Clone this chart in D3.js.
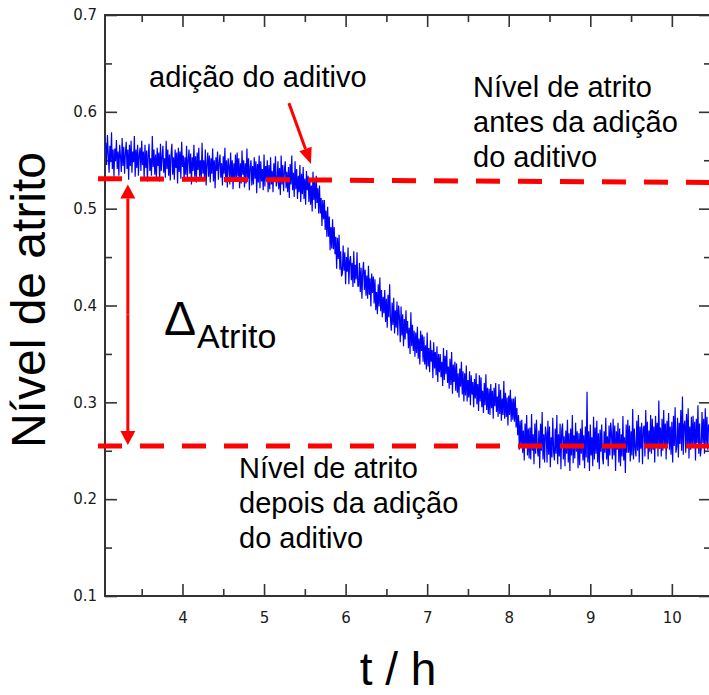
<!DOCTYPE html>
<html>
<head>
<meta charset="utf-8">
<script src="https://cdn.jsdelivr.net/npm/d3@7"></script>
<style>
    body { margin: 0; background: #fff; }
    svg { display: block; }
    .lbl { font-family: 'Liberation Sans', Arial, sans-serif; fill: #000; }
</style>
</head>
<body>
<svg class="chart" width="709" height="695"></svg>
<script>
// friction trace, sampled every 0.01 h starting at t = 3.06 h (one row = 0.1 h)
var traceStart = 3.06
var traceStep = 0.01
var friction = [
    0.568, 0.545, 0.576, 0.557, 0.537, 0.565, 0.548, 0.579, 0.541, 0.561,
    0.533, 0.562, 0.549, 0.571, 0.541, 0.559, 0.534, 0.566, 0.554, 0.538,
    0.573, 0.544, 0.564, 0.536, 0.557, 0.569, 0.541, 0.561, 0.530, 0.566,
    0.544, 0.570, 0.537, 0.559, 0.548, 0.575, 0.533, 0.561, 0.542, 0.566,
    0.534, 0.556, 0.563, 0.539, 0.570, 0.545, 0.559, 0.531, 0.566, 0.542,
    0.560, 0.528, 0.556, 0.567, 0.539, 0.552, 0.534, 0.575, 0.543, 0.561,
    0.535, 0.556, 0.530, 0.563, 0.544, 0.558, 0.528, 0.567, 0.539, 0.553,
    0.565, 0.537, 0.552, 0.532, 0.570, 0.541, 0.561, 0.534, 0.556, 0.529,
    0.556, 0.567, 0.535, 0.553, 0.530, 0.561, 0.542, 0.558, 0.526, 0.563,
    0.538, 0.559, 0.531, 0.569, 0.543, 0.555, 0.528, 0.553, 0.535, 0.565,
    0.531, 0.550, 0.561, 0.536, 0.557, 0.525, 0.553, 0.539, 0.566, 0.533,
    0.554, 0.527, 0.558, 0.540, 0.563, 0.533, 0.550, 0.529, 0.568, 0.536,
    0.550, 0.530, 0.561, 0.524, 0.546, 0.558, 0.533, 0.555, 0.527, 0.552,
    0.536, 0.562, 0.528, 0.550, 0.521, 0.553, 0.539, 0.559, 0.530, 0.547,
    0.556, 0.532, 0.547, 0.524, 0.554, 0.536, 0.563, 0.527, 0.550, 0.522,
    0.552, 0.544, 0.525, 0.558, 0.532, 0.550, 0.520, 0.547, 0.529, 0.556,
    0.529, 0.558, 0.533, 0.552, 0.521, 0.547, 0.526, 0.560, 0.535, 0.550,
    0.522, 0.547, 0.526, 0.562, 0.531, 0.552, 0.519, 0.543, 0.550, 0.524,
    0.544, 0.525, 0.553, 0.531, 0.549, 0.516, 0.546, 0.527, 0.555, 0.521,
    0.549, 0.528, 0.541, 0.519, 0.556, 0.523, 0.544, 0.531, 0.550, 0.517,
    0.545, 0.520, 0.553, 0.525, 0.539, 0.517, 0.547, 0.528, 0.554, 0.523,
    0.528, 0.549, 0.520, 0.542, 0.514, 0.555, 0.525, 0.545, 0.518, 0.540,
    0.549, 0.521, 0.538, 0.517, 0.543, 0.511, 0.546, 0.525, 0.555, 0.519,
    0.537, 0.512, 0.549, 0.520, 0.541, 0.510, 0.534, 0.517, 0.545, 0.507,
    0.536, 0.515, 0.543, 0.510, 0.531, 0.504, 0.539, 0.519, 0.534, 0.507,
    0.532, 0.504, 0.524, 0.497, 0.538, 0.509, 0.529, 0.500, 0.534, 0.506,
    0.521, 0.495, 0.524, 0.495, 0.511, 0.482, 0.509, 0.489, 0.509, 0.478,
    0.498, 0.471, 0.502, 0.471, 0.492, 0.457, 0.481, 0.459, 0.489, 0.458,
    0.481, 0.453, 0.471, 0.438, 0.470, 0.448, 0.473, 0.437, 0.456, 0.430,
    0.433, 0.462, 0.436, 0.455, 0.422, 0.450, 0.435, 0.460, 0.422, 0.446,
    0.451, 0.426, 0.444, 0.419, 0.456, 0.423, 0.442, 0.427, 0.455, 0.420,
    0.420, 0.444, 0.414, 0.439, 0.407, 0.435, 0.445, 0.416, 0.437, 0.410,
    0.431, 0.407, 0.441, 0.411, 0.428, 0.399, 0.433, 0.413, 0.430, 0.402,
    0.427, 0.395, 0.414, 0.391, 0.422, 0.399, 0.429, 0.394, 0.416, 0.388,
    0.409, 0.392, 0.416, 0.383, 0.407, 0.377, 0.411, 0.388, 0.422, 0.386,
    0.374, 0.403, 0.380, 0.408, 0.371, 0.395, 0.377, 0.404, 0.369, 0.400,
    0.388, 0.362, 0.399, 0.369, 0.391, 0.358, 0.386, 0.365, 0.395, 0.371,
    0.384, 0.356, 0.377, 0.350, 0.393, 0.358, 0.380, 0.353, 0.374, 0.347,
    0.372, 0.351, 0.378, 0.345, 0.366, 0.339, 0.374, 0.353, 0.370, 0.342,
    0.368, 0.339, 0.359, 0.334, 0.372, 0.337, 0.356, 0.331, 0.364, 0.342,
    0.354, 0.325, 0.362, 0.335, 0.352, 0.328, 0.358, 0.321, 0.350, 0.331,
    0.350, 0.326, 0.342, 0.317, 0.356, 0.323, 0.348, 0.329, 0.354, 0.320,
    0.337, 0.314, 0.345, 0.318, 0.352, 0.309, 0.339, 0.321, 0.342, 0.312,
    0.340, 0.310, 0.330, 0.305, 0.335, 0.316, 0.342, 0.308, 0.332, 0.301,
    0.330, 0.307, 0.338, 0.301, 0.323, 0.305, 0.332, 0.297, 0.328, 0.308,
    0.321, 0.295, 0.324, 0.304, 0.330, 0.298, 0.319, 0.291, 0.328, 0.301,
    0.326, 0.295, 0.312, 0.289, 0.320, 0.297, 0.329, 0.292, 0.315, 0.288,
    0.314, 0.287, 0.319, 0.294, 0.312, 0.283, 0.315, 0.296, 0.320, 0.290,
    0.306, 0.285, 0.319, 0.288, 0.313, 0.281, 0.304, 0.287, 0.322, 0.283,
    0.310, 0.285, 0.305, 0.276, 0.307, 0.287, 0.313, 0.280, 0.304, 0.282,
    0.304, 0.280, 0.306, 0.274, 0.294, 0.266, 0.287, 0.251, 0.281, 0.255,
    0.282, 0.248, 0.271, 0.240, 0.278, 0.254, 0.287, 0.245, 0.273, 0.242,
    0.274, 0.241, 0.288, 0.250, 0.267, 0.236, 0.278, 0.247, 0.282, 0.254,
    0.244, 0.271, 0.232, 0.278, 0.250, 0.290, 0.241, 0.267, 0.238, 0.275,
    0.268, 0.238, 0.281, 0.246, 0.275, 0.233, 0.264, 0.243, 0.284, 0.249,
    0.240, 0.273, 0.247, 0.287, 0.236, 0.267, 0.244, 0.278, 0.231, 0.271,
    0.278, 0.241, 0.265, 0.234, 0.271, 0.247, 0.282, 0.238, 0.268, 0.229,
    0.273, 0.245, 0.287, 0.237, 0.266, 0.242, 0.279, 0.249, 0.270, 0.232,
    0.268, 0.235, 0.273, 0.247, 0.282, 0.240, 0.266, 0.232, 0.275, 0.243,
    0.311, 0.238, 0.270, 0.229, 0.277, 0.245, 0.264, 0.234, 0.285, 0.241,
    0.274, 0.247, 0.281, 0.238, 0.268, 0.231, 0.272, 0.249, 0.277, 0.243,
    0.236, 0.270, 0.248, 0.284, 0.241, 0.265, 0.234, 0.276, 0.245, 0.279,
    0.268, 0.241, 0.283, 0.245, 0.276, 0.229, 0.270, 0.251, 0.279, 0.238,
    0.273, 0.234, 0.267, 0.244, 0.286, 0.240, 0.264, 0.227, 0.277, 0.248,
    0.282, 0.248, 0.276, 0.239, 0.270, 0.245, 0.293, 0.241, 0.273, 0.252,
    0.244, 0.281, 0.250, 0.287, 0.238, 0.275, 0.252, 0.279, 0.236, 0.273,
    0.276, 0.244, 0.292, 0.253, 0.280, 0.241, 0.271, 0.249, 0.287, 0.247,
    0.283, 0.251, 0.275, 0.238, 0.286, 0.255, 0.279, 0.244, 0.302, 0.252,
    0.274, 0.244, 0.283, 0.250, 0.292, 0.254, 0.278, 0.241, 0.281, 0.257,
    0.289, 0.251, 0.275, 0.246, 0.280, 0.238, 0.286, 0.255, 0.295, 0.248,
    0.254, 0.284, 0.243, 0.279, 0.257, 0.292, 0.250, 0.306, 0.246, 0.277,
    0.281, 0.248, 0.288, 0.255, 0.294, 0.242, 0.275, 0.251, 0.285, 0.253,
    0.286, 0.256, 0.280, 0.240, 0.283, 0.258, 0.297, 0.247, 0.278, 0.244,
    0.253, 0.290, 0.258, 0.283, 0.247, 0.294, 0.255, 0.285, 0.251, 0.277,
    0.270
]

// reference levels [t, value]
var levelBefore = [[2.964, 0.531], [10.5, 0.527]]
var levelAfter = [[2.964, 0.255], [10.5, 0.255]]
var deltaArrow = {t: 3.33, from: 0.525, to: 0.256}
var additionArrow = {t0: 5.305, v0: 0.609, t1: 5.575, v1: 0.546}

var xMajor = [4, 5, 6, 7, 8, 9, 10]
var xMinor = [3.5, 4.5, 5.5, 6.5, 7.5, 8.5, 9.5, 10.5]
var yMajor = [0.1, 0.2, 0.3, 0.4, 0.5, 0.6, 0.7]
var yMinor = [0.15, 0.25, 0.35, 0.45, 0.55, 0.65]

var plotL = 105, plotR = 711, plotT = 15, plotB = 596

var svg = d3.select('.chart')

var xScale = d3.scaleLinear().domain([3.05, 10.48]).range([plotL, plotR])
var yScale = d3.scaleLinear().domain([0.1, 0.7]).range([plotB, plotT])

var fmtY = d3.format('.1f')

// ticks point inward on all four sides
function addAxis(axis, tx, ty) {
    var g = svg.append('g')
        .attr('transform', 'translate(' + tx + ',' + ty + ')')
        .call(axis)
    g.select('.domain').remove()
    g.selectAll('.tick line')
        .attr('stroke', '#333')
        .attr('stroke-width', 1.6)
    g.selectAll('.tick text')
        .attr('fill', '#1a1a1a')
        .style('font-family', "'DejaVu Sans', sans-serif")
        .style('font-size', '15px')
    return g
}

addAxis(d3.axisBottom(xScale).tickValues(xMajor).tickSize(-12).tickPadding(16).tickFormat(d3.format('d')), 0, plotB)
addAxis(d3.axisBottom(xScale).tickValues(xMinor).tickSize(-7).tickFormat(''), 0, plotB)
addAxis(d3.axisTop(xScale).tickValues(xMajor).tickSize(-12).tickFormat(''), 0, plotT)
addAxis(d3.axisTop(xScale).tickValues(xMinor).tickSize(-7).tickFormat(''), 0, plotT)
addAxis(d3.axisLeft(yScale).tickValues(yMajor).tickSize(-12).tickPadding(8).tickFormat(fmtY), plotL, 0)
addAxis(d3.axisLeft(yScale).tickValues(yMinor).tickSize(-7).tickFormat(''), plotL, 0)
addAxis(d3.axisRight(yScale).tickValues(yMajor).tickSize(-12).tickFormat(''), plotR, 0)
addAxis(d3.axisRight(yScale).tickValues(yMinor).tickSize(-7).tickFormat(''), plotR, 0)

svg.append('rect')
    .attr('x', plotL).attr('y', plotT)
    .attr('width', plotR - plotL).attr('height', plotB - plotT)
    .attr('fill', 'none')
    .attr('stroke', '#333')
    .attr('stroke-width', 2)

var line = d3.line()
    .x((d, i) => xScale(traceStart + i * traceStep))
    .y((d) => yScale(d))

svg.append('path')
    .datum(friction)
    .attr('d', line)
    .attr('fill', 'none')
    .attr('stroke', '#0000ff')
    .attr('stroke-width', 1.2)

var levelLine = d3.line()
    .x((d) => xScale(d[0]))
    .y((d) => yScale(d[1]))

svg.selectAll('.level').data([levelBefore, levelAfter])
    .enter()
    .append('path')
    .attr('class', 'level')
    .attr('d', levelLine)
    .attr('fill', 'none')
    .attr('stroke', '#ff0000')
    .attr('stroke-width', 5)
    .attr('stroke-dasharray', '24,18')

// arrow helper: shaft plus a filled head at the tip
function arrow(x0, y0, x1, y1, headLen, headW) {
    var dx = x1 - x0, dy = y1 - y0
    var len = Math.sqrt(dx * dx + dy * dy)
    var ux = dx / len, uy = dy / len
    var bx = x1 - ux * headLen, by = y1 - uy * headLen
    svg.append('line')
        .attr('x1', x0).attr('y1', y0).attr('x2', bx).attr('y2', by)
        .attr('stroke', '#ff0000').attr('stroke-width', 3)
    svg.append('path')
        .attr('d', 'M' + x1 + ',' + y1 +
            'L' + (bx - uy * headW / 2) + ',' + (by + ux * headW / 2) +
            'L' + (bx + uy * headW / 2) + ',' + (by - ux * headW / 2) + 'Z')
        .attr('fill', '#ff0000')
}

var ax = xScale(deltaArrow.t)
var ayTop = yScale(deltaArrow.from), ayBot = yScale(deltaArrow.to)
var mid = (ayTop + ayBot) / 2
arrow(ax, mid, ax, ayTop, 14, 15)
arrow(ax, mid, ax, ayBot, 14, 15)

arrow(xScale(additionArrow.t0), yScale(additionArrow.v0),
    xScale(additionArrow.t1), yScale(additionArrow.v1), 16, 13)

// annotations
svg.append('text').attr('class', 'lbl')
    .attr('x', 149).attr('y', 87)
    .style('font-size', '29px')
    .text('adição do aditivo')

var before = ['Nível de atrito', 'antes da adição', 'do aditivo']
svg.selectAll('.before').data(before)
    .enter()
    .append('text')
    .attr('class', 'lbl before')
    .attr('x', 473)
    .attr('y', (d, i) => 97 + i * 35)
    .style('font-size', '29px')
    .text((d) => d)

var after = ['Nível de atrito', 'depois da adição', 'do aditivo']
svg.selectAll('.after').data(after)
    .enter()
    .append('text')
    .attr('class', 'lbl after')
    .attr('x', 239)
    .attr('y', (d, i) => 478 + i * 35)
    .style('font-size', '29px')
    .text((d) => d)

svg.append('text').attr('class', 'lbl')
    .attr('x', 164).attr('y', 335)
    .style('font-size', '48px')
    .text('Δ')
svg.append('text').attr('class', 'lbl')
    .attr('x', 197).attr('y', 348)
    .style('font-size', '34px')
    .text('Atrito')

svg.append('text').attr('class', 'lbl')
    .attr('x', 398).attr('y', 685)
    .attr('text-anchor', 'middle')
    .style('font-size', '46px')
    .text('t / h')

svg.append('text').attr('class', 'lbl')
    .attr('transform', 'translate(45, 300) rotate(-90)')
    .attr('text-anchor', 'middle')
    .style('font-size', '48px')
    .text('Nível de atrito')
</script>
</body>
</html>
